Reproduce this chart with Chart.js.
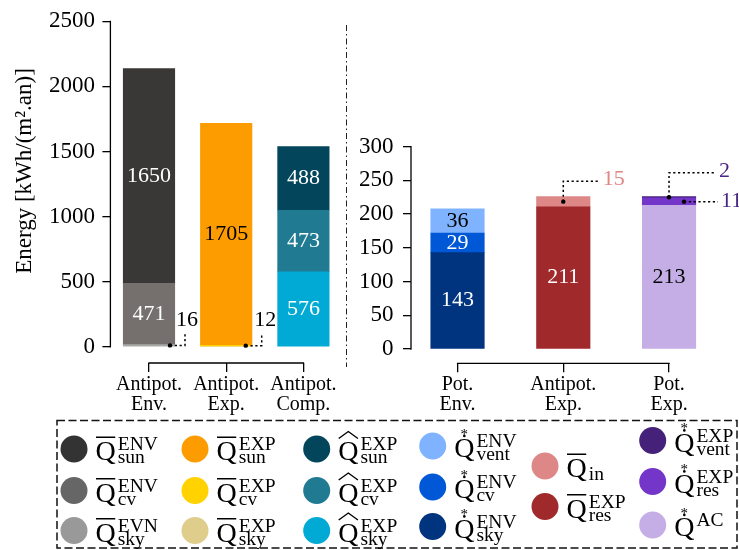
<!DOCTYPE html>
<html>
<head>
<meta charset="utf-8">
<script src="https://cdn.jsdelivr.net/npm/chart.js@4/dist/chart.umd.min.js"></script>
<style>
  html, body { margin: 0; padding: 0; background: #ffffff; }
  #wrap { position: relative; width: 739px; height: 550px; overflow: hidden; }
  #left { position: absolute; left: 0; top: 0; }
  #right { position: absolute; left: 350px; top: 0; }
</style>
</head>
<body>
<div id="wrap">
  <canvas id="left" width="739" height="550"></canvas>
  <canvas id="right" width="389" height="420"></canvas>
</div>
<script>
// ---------------- DATA ----------------
const leftCategories  = [['Antipot.', 'Env.'], ['Antipot.', 'Exp.'], ['Antipot.', 'Comp.']];
const rightCategories = [['Pot.', 'Env.'], ['Antipot.', 'Exp.'], ['Pot.', 'Exp.']];
const leftTicks  = [0, 500, 1000, 1500, 2000, 2500];
const rightTicks = [0, 50, 100, 150, 200, 250, 300];
const yTitle = 'Energy [kWh/(m².an)]';

// left panel (kWh/(m².an)), one value per left category, null = absent
const qEnvSky = [16, null, null];
const qEnvCv  = [471, null, null];
const qEnvSun = [1650, null, null];
const qExpSky = [null, 0, null];
const qExpCv  = [null, 12, null];
const qExpSun = [null, 1705, null];
const qHatSky = [null, null, 576];
const qHatCv  = [null, null, 473];
const qHatSun = [null, null, 488];

// right panel, one value per right category
const qsEnvSky  = [143, null, null];
const qsEnvCv   = [29, null, null];
const qsEnvVent = [36, null, null];
const qResExp   = [null, 211, null];
const qIn       = [null, 15, null];
const qsAC      = [null, null, 213];
const qsResExp  = [null, null, 11];
const qsVentExp = [null, null, 2];

// series (stack order bottom -> top) with their math symbol parts
const leftSeries = [
  { key: 'envSky', values: qEnvSky, acc: 'bar', sup: 'EVN', sub: 'sky' },
  { key: 'envCv',  values: qEnvCv,  acc: 'bar', sup: 'ENV', sub: 'cv' },
  { key: 'envSun', values: qEnvSun, acc: 'bar', sup: 'ENV', sub: 'sun' },
  { key: 'expSky', values: qExpSky, acc: 'bar', sup: 'EXP', sub: 'sky' },
  { key: 'expCv',  values: qExpCv,  acc: 'bar', sup: 'EXP', sub: 'cv' },
  { key: 'expSun', values: qExpSun, acc: 'bar', sup: 'EXP', sub: 'sun' },
  { key: 'hatSky', values: qHatSky, acc: 'hat', sup: 'EXP', sub: 'sky' },
  { key: 'hatCv',  values: qHatCv,  acc: 'hat', sup: 'EXP', sub: 'cv' },
  { key: 'hatSun', values: qHatSun, acc: 'hat', sup: 'EXP', sub: 'sun' }
];
const rightSeries = [
  { key: 'sEnvSky',  values: qsEnvSky,  acc: 'star', sup: 'ENV', sub: 'sky' },
  { key: 'sEnvCv',   values: qsEnvCv,   acc: 'star', sup: 'ENV', sub: 'cv' },
  { key: 'sEnvVent', values: qsEnvVent, acc: 'star', sup: 'ENV', sub: 'vent' },
  { key: 'resExp',   values: qResExp,   acc: 'bar',  sup: 'EXP', sub: 'res' },
  { key: 'in',       values: qIn,       acc: 'bar',  sup: '',    sub: 'in' },
  { key: 'sAC',      values: qsAC,      acc: 'star', sup: 'AC',  sub: '' },
  { key: 'sResExp',  values: qsResExp,  acc: 'star', sup: 'EXP', sub: 'res' },
  { key: 'sVentExp', values: qsVentExp, acc: 'star', sup: 'EXP', sub: 'vent' }
];
const legendOrder = [
  ['envSun', 'envCv', 'envSky'],
  ['expSun', 'expCv', 'expSky'],
  ['hatSun', 'hatCv', 'hatSky'],
  ['sEnvVent', 'sEnvCv', 'sEnvSky'],
  ['in', 'resExp'],
  ['sVentExp', 'sResExp', 'sAC']
];

// ---------------- STYLE ----------------
const FONT = '"Liberation Serif", "Times New Roman", serif';
const style = {
  envSky:  { color: '#aaa9a8', legend: '#999999' },
  envCv:   { color: '#75706e', legend: '#666666', text: '#ffffff' },
  envSun:  { color: '#3a3836', legend: '#333333', text: '#ffffff' },
  expSky:  { color: '#dfcd8b' },
  expCv:   { color: '#ffd200' },
  expSun:  { color: '#fd9c00', text: '#000000' },
  hatSky:  { color: '#00aad5', text: '#ffffff' },
  hatCv:   { color: '#207b92', text: '#ffffff' },
  hatSun:  { color: '#03455a', text: '#ffffff' },
  sEnvSky: { color: '#00347f', text: '#ffffff' },
  sEnvCv:  { color: '#0058d6', text: '#ffffff' },
  sEnvVent:{ color: '#80b3ff', text: '#000000' },
  resExp:  { color: '#a0292c', text: '#ffffff' },
  in:      { color: '#de8787' },
  sAC:     { color: '#c5aee6', text: '#000000' },
  sResExp: { color: '#7436c8' },
  sVentExp:{ color: '#45217a' }
};
// callouts: dot x-offset from bar centre, polyline (x from bar centre, y from dot), text anchor
const callouts = {
  envSky:   { dot: 21,   path: [[36, 0], [36, -13]],     tx: 38,   ty: -25,   align: 'center', color: '#000000' },
  expCv:    { dot: 19.5, path: [[35.5, 0], [35.5, -13]], tx: 39,   ty: -25,   align: 'center', color: '#000000' },
  in:       { dot: 0,    path: [[0, -20.5], [36, -20.5]], tx: 39.5, ty: -22.5, align: 'left',   color: '#e08585' },
  sVentExp: { dot: 0,    path: [[0, -24.6], [46, -24.6]], tx: 50,   ty: -26.3, align: 'left',   color: '#4a2686' },
  sResExp:  { dot: 15,   path: [[49, 0]],                 tx: 52,   ty: 0,     align: 'left',   color: '#4a2686' }
};
const legendCols = [
  { cx: 74,    rows: [449, 490.5, 530.5] },
  { cx: 195,   rows: [449, 490.5, 530.5] },
  { cx: 316.7, rows: [449, 490.5, 530.5] },
  { cx: 432.7, rows: [446, 487, 526.5] },
  { cx: 545,   rows: [466, 506.5] },
  { cx: 652.7, rows: [440.5, 481.5, 525] }
];

Chart.defaults.font.family = FONT;
Chart.defaults.color = '#000000';

function makeDatasets(series, thickness) {
  return series.map(s => ({
    label: s.key,
    data: s.values.map((v, i) => (v == null ? null : { x: i, y: v })).filter(p => p),
    backgroundColor: style[s.key].color,
    borderWidth: 0,
    barThickness: thickness
  }));
}

const barText = {
  id: 'barText',
  afterDatasetsDraw(chart) {
    const ctx = chart.ctx;
    ctx.save();
    chart.data.datasets.forEach((ds, di) => {
      const meta = chart.getDatasetMeta(di);
      const st = style[ds.label];
      meta.data.forEach((el, j) => {
        const v = ds.data[j].y;
        if (!v) return;
        const yMid = (el.y + el.base) / 2;
        ctx.font = '22px ' + FONT;
        if (st.text) {
          ctx.fillStyle = st.text;
          ctx.textAlign = 'center';
          ctx.textBaseline = 'middle';
          ctx.fillText(String(v), el.x, yMid);
        } else if (callouts[ds.label]) {
          const c = callouts[ds.label];
          const dx = el.x + c.dot;
          ctx.fillStyle = '#000';
          ctx.beginPath(); ctx.arc(dx, yMid, 2.2, 0, Math.PI * 2); ctx.fill();
          ctx.strokeStyle = '#000'; ctx.lineWidth = 1.5; ctx.setLineDash([2.2, 2.6]);
          ctx.beginPath(); ctx.moveTo(dx, yMid);
          c.path.forEach(p => ctx.lineTo(el.x + p[0], yMid + p[1]));
          ctx.stroke(); ctx.setLineDash([]);
          ctx.fillStyle = c.color;
          ctx.textAlign = c.align;
          ctx.textBaseline = 'middle';
          ctx.fillText(String(v), el.x + c.tx, yMid + c.ty);
        }
      });
    });
    ctx.restore();
  }
};

const spines = {
  id: 'spines',
  afterDraw(chart) {
    const { ctx, chartArea, scales } = chart;
    const x = scales.x, y = scales.y;
    const ty = y.ticks.map(t => t.value), tx = x.ticks.map(t => t.value);
    ctx.save();
    ctx.strokeStyle = '#000'; ctx.lineWidth = 1.3; ctx.lineCap = 'square';
    ctx.beginPath();
    ctx.moveTo(chartArea.left, y.getPixelForValue(Math.min(...ty)));
    ctx.lineTo(chartArea.left, y.getPixelForValue(Math.max(...ty)));
    ctx.stroke();
    ctx.beginPath();
    ctx.moveTo(x.getPixelForValue(Math.min(...tx)), chartArea.bottom);
    ctx.lineTo(x.getPixelForValue(Math.max(...tx)), chartArea.bottom);
    ctx.stroke();
    ctx.restore();
  }
};

function drawSymbol(ctx, cx, cy, s) {
  const st = style[s.key];
  ctx.fillStyle = st.legend || st.color;
  ctx.beginPath(); ctx.arc(cx, cy, 13.5, 0, Math.PI * 2); ctx.fill();
  const qx = cx + 21.5, qb = cy + 11;
  ctx.fillStyle = '#000'; ctx.strokeStyle = '#000';
  ctx.textAlign = 'left'; ctx.textBaseline = 'alphabetic';
  ctx.font = '28px ' + FONT;
  ctx.fillText('Q', qx, qb);
  const qw = ctx.measureText('Q').width;
  const qTop = qb - 18.5, qc = qx + qw / 2;
  if (s.acc === 'bar') {
    ctx.fillRect(qx + 0.5, qTop - 5, qw - 1, 1.5);
  } else if (s.acc === 'hat') {
    ctx.lineWidth = 1.4;
    ctx.beginPath(); ctx.moveTo(qx + 0.5, qTop - 3); ctx.lineTo(qc, qTop - 10); ctx.lineTo(qx + qw - 0.5, qTop - 3); ctx.stroke();
  } else if (s.acc === 'star') {
    ctx.beginPath(); ctx.arc(qc, qTop - 2.6, 1.3, 0, Math.PI * 2); ctx.fill();
    ctx.font = '15px ' + FONT; ctx.textAlign = 'center';
    ctx.fillText('*', qc, qTop - 7.8 + 8);
    ctx.textAlign = 'left';
  }
  ctx.font = '19.5px ' + FONT;
  const sx = qx + qw + 2;
  if (s.sup) ctx.fillText(s.sup, sx, cy + 1);
  if (s.sub) ctx.fillText(s.sub, sx, cy + 14);
}

const decor = {
  id: 'decor',
  afterDraw(chart) {
    const ctx = chart.ctx;
    ctx.save();
    // y axis title
    ctx.fillStyle = '#000'; ctx.font = '23px ' + FONT;
    ctx.textAlign = 'center'; ctx.textBaseline = 'alphabetic';
    ctx.translate(31, 171); ctx.rotate(-Math.PI / 2);
    ctx.fillText(yTitle, 0, 0);
    ctx.setTransform(1, 0, 0, 1, 0, 0);
    // dash-dot separator between the panels
    ctx.strokeStyle = '#222'; ctx.lineWidth = 1;
    ctx.setLineDash([6, 3, 1.5, 3]);
    ctx.beginPath(); ctx.moveTo(346.5, 25); ctx.lineTo(346.5, 367); ctx.stroke();
    // legend frame
    ctx.lineWidth = 1.5; ctx.setLineDash([8, 3.5]); ctx.strokeStyle = '#111';
    ctx.strokeRect(57, 420.5, 680, 127.5);
    ctx.setLineDash([]);
    const all = leftSeries.concat(rightSeries);
    legendOrder.forEach((col, ci) => {
      col.forEach((key, ri) => {
        const s = all.find(a => a.key === key);
        drawSymbol(ctx, legendCols[ci].cx, legendCols[ci].rows[ri], s);
      });
    });
    ctx.restore();
  }
};

function axisOpts(cfg) {
  return {
    x: {
      type: 'linear', stacked: true, min: cfg.xmin, max: cfg.xmax, offset: false, bounds: 'data',
      afterBuildTicks: s => { s.ticks = [0, 1, 2].map(v => ({ value: v })); },
      afterFit: s => { s.height = cfg.xh; },
      ticks: { callback: v => cfg.cats[v], font: { size: 20, lineHeight: 1.0 }, padding: 2.3, maxRotation: 0, autoSkip: false },
      grid: { offset: false, drawOnChartArea: false, drawTicks: true, tickLength: 9, color: '#000', lineWidth: 1.3 },
      border: { display: false }
    },
    y: {
      stacked: true, min: cfg.ymin, max: cfg.ymax,
      afterBuildTicks: s => { s.ticks = cfg.ticks.map(v => ({ value: v })); },
      afterFit: s => { s.width = cfg.yw; },
      ticks: { callback: v => String(v), font: { size: 23 }, padding: cfg.tp, autoSkip: false },
      grid: { drawOnChartArea: false, drawTicks: true, tickLength: 8, color: '#000', lineWidth: 1.3 },
      border: { display: false }
    }
  };
}

new Chart(document.getElementById('left'), {
  type: 'bar',
  data: { datasets: makeDatasets(leftSeries, 51.5) },
  options: {
    responsive: false, animation: false, devicePixelRatio: 1,
    layout: { padding: { left: 0, top: 19.5, right: 397, bottom: 130 } },
    plugins: { legend: { display: false }, tooltip: { enabled: false } },
    scales: axisOpts({ xmin: -0.5, xmax: 2.5, xh: 57, cats: leftCategories, ymin: -124.6, ymax: 2500, ticks: leftTicks, yw: 110.4, tp: 7.5 })
  },
  plugins: [barText, spines, decor]
});

new Chart(document.getElementById('right'), {
  type: 'bar',
  data: { datasets: makeDatasets(rightSeries, 53.5) },
  options: {
    responsive: false, animation: false, devicePixelRatio: 1,
    layout: { padding: { left: 0, top: 146.7, right: 19, bottom: 0 } },
    plugins: { legend: { display: false }, tooltip: { enabled: false } },
    scales: axisOpts({ xmin: -0.44, xmax: 2.482, xh: 56.7, cats: rightCategories, ymin: -21.2, ymax: 300, ticks: rightTicks, yw: 61, tp: 9.5 })
  },
  plugins: [barText, spines]
});
</script>
</body>
</html>
